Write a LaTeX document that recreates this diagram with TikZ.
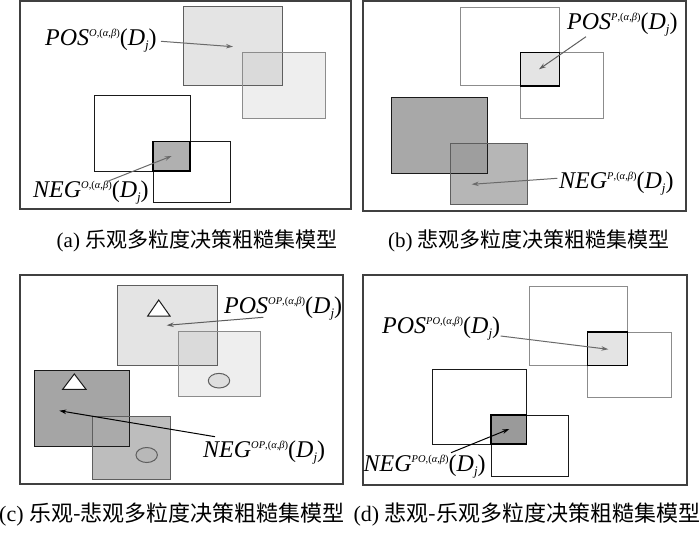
\documentclass[tikz,border=0pt]{standalone}
\usepackage{fontspec}
\setmainfont{Liberation Serif}
\newfontfamily\cjk{Noto Sans CJK SC}
\usetikzlibrary{arrows.meta}
\definecolor{frm}{HTML}{404040}
\definecolor{bdark}{HTML}{1A1A1A}
\definecolor{bmid}{HTML}{5E5E5E}
\definecolor{blight}{HTML}{8C8C8C}
\definecolor{fA}{HTML}{E4E4E4}
\definecolor{fB}{HTML}{EEEEEE}
\definecolor{fAB}{HTML}{DADADA}
\definecolor{fdark}{HTML}{A8A8A8}
\definecolor{fmed}{HTML}{B6B6B6}
\definecolor{fdm}{HTML}{9E9E9E}
\definecolor{fint}{HTML}{B0B0B0}
\definecolor{fintd}{HTML}{9A9A9A}
\definecolor{fcd}{HTML}{A5A5A5}
\definecolor{fcm}{HTML}{BDBDBD}
\definecolor{fcdm}{HTML}{AAAAAA}
\definecolor{fel1}{HTML}{DEDEDE}
\definecolor{fel2}{HTML}{B8B8B8}
\definecolor{agray}{HTML}{6A6A6A}
% label: #1 = POS/NEG, #2 = superscript letters
\newcommand{\lab}[2]{{\itshape #1}\raisebox{9pt}{\fontsize{10.5}{11}\selectfont\textit{#2},(\textit{α},\textit{β})}(\textit{D}\raisebox{-4pt}{\fontsize{13}{14}\selectfont\itshape j})}
\tikzset{
  frame/.style={draw=frm,line width=1.5pt},
  bx/.style={draw=bdark,line width=1pt},
  bxg/.style={draw=blight,line width=1pt},
  bxm/.style={draw=bmid,line width=1pt},
  inter/.style={draw=black,line width=1.5pt},
  lbl/.style={inner sep=0pt,anchor=base west,font=\fontsize{24}{28}\selectfont},
  captxt/.style={inner sep=0pt,font=\fontsize{21}{24}\selectfont},
  captxtb/.style={inner sep=0pt,font=\fontsize{22}{26}\selectfont},
  arg/.style={draw=agray,line width=1pt,-{Stealth[length=7pt,width=4.5pt]}},
  ark/.style={draw=black,line width=1pt,-{Stealth[length=7pt,width=4.5pt]}},
  tri/.style={draw=bdark,fill=white,line width=1pt},
}
\begin{document}
\begin{tikzpicture}[x=1pt,y=-1pt]
\useasboundingbox (0,0) rectangle (700,532);
% ---------- panel (a)
\draw[frame] (20,1) rectangle (351,209);
\fill[fA] (183.3,6.7) rectangle (282.7,86);
\fill[fB] (242.7,52.3) rectangle (325.7,118.3);
\fill[fAB] (242.7,52.3) rectangle (282.7,86);
\draw[bxm] (183.3,6.7) rectangle (282.7,86);
\draw[bxg] (242.7,52.3) rectangle (325.7,118.3);
\draw[bx] (94.7,95.3) rectangle (190,171);
\draw[bx] (153,141.7) rectangle (230,202.3);
\draw[inter,fill=fint] (153,141.7) rectangle (190,171);
\node[lbl] (posa) at (45,45.5) {\lab{POS}{O}};
\node[lbl] (nega) at (33,197) {\lab{NEG}{O}};
\coordinate (pa1) at (161,41.3); \coordinate (pa2) at (233,46.7);
\coordinate (na1) at (106.7,181.7); \coordinate (na2) at (171.7,156);
\draw[arg] (pa1) -- (pa2);
\draw[arg] (na1) -- (na2);
\node[captxt] (capa) at (197,241) {(a) {\cjk 乐观多粒度决策粗糙集模型}};
% ---------- panel (b)
\draw[frame] (363,1) rectangle (686,211);
\draw[bxg,fill=white] (460.7,7.3) rectangle (559.3,86);
\draw[bxg] (520.3,52.7) rectangle (603.3,118.3);
\draw[inter,fill=fA] (520.3,52.7) rectangle (559.3,86);
\fill[fdark] (391.7,97.3) rectangle (487.3,173.3);
\fill[fmed] (450.7,143.3) rectangle (527.7,204.7);
\fill[fdm] (450.7,143.3) rectangle (487.3,173.3);
\draw[bx] (391.7,97.3) rectangle (487.3,173.3);
\draw[bxm] (450.7,143.3) rectangle (527.7,204.7);
\node[lbl] (posb) at (567,30) {\lab{POS}{P}};
\node[lbl] (negb) at (559,188) {\lab{NEG}{P}};
\coordinate (pb1) at (586,36.7); \coordinate (pb2) at (539,69.3);
\coordinate (nb1) at (557.3,178.3); \coordinate (nb2) at (471.7,184.3);
\draw[ark,draw=bmid] (pb1) -- (pb2);
\draw[arg] (nb1) -- (nb2);
\node[captxt] (capb) at (529,241) {(b) {\cjk 悲观多粒度决策粗糙集模型}};
% ---------- panel (c)
\draw[frame] (20,275) rectangle (343,484);
\fill[fA] (117.7,285.7) rectangle (217.3,365);
\fill[fB] (178,331) rectangle (260.3,396.7);
\fill[fAB] (178,331) rectangle (217.3,365);
\draw[bxm] (117.7,285.7) rectangle (217.3,365);
\draw[bxg] (178,331) rectangle (260.3,396.7);
\fill[fcd] (34.3,370) rectangle (129.3,446);
\fill[fcm] (92.3,416.7) rectangle (170,479);
\fill[fcdm] (92.3,416.7) rectangle (129.3,446);
\draw[bx] (34.3,370) rectangle (129.3,446);
\draw[bxm] (92.3,416.7) rectangle (170,479);
\draw[tri] (158.7,300) -- (170,316) -- (147.7,316) -- cycle;
\draw[tri] (74.3,374) -- (86,389.3) -- (62.7,389.3) -- cycle;
\draw[bxm,fill=fel1] (219,380.7) ellipse [x radius=10.7pt, y radius=7.3pt];
\draw[bxm,fill=fel2] (146.7,455) ellipse [x radius=10.7pt, y radius=7.5pt];
\node[lbl] (posc) at (224,313.5) {\lab{POS}{OP}};
\node[lbl] (negc) at (203,457) {\lab{NEG}{OP}};
\coordinate (pc1) at (263.3,317.3); \coordinate (pc2) at (166.7,325.3);
\coordinate (nc1) at (215,436.7); \coordinate (nc2) at (59.3,410.7);
\draw[ark,draw=bmid] (pc1) -- (pc2);
\draw[ark] (nc1) -- (nc2);
\node[captxtb] (capc) at (172,515) {(c) {\cjk 乐观-悲观多粒度决策粗糙集模型}};
% ---------- panel (d)
\draw[frame] (363,275) rectangle (687,485);
\draw[bxg] (529,286.7) rectangle (627.7,365.3);
\draw[bxg] (587.7,332) rectangle (671,397.7);
\draw[inter,fill=fA] (587.7,332) rectangle (627.7,365.3);
\draw[bx] (432.3,369.3) rectangle (526.7,444);
\draw[bx] (491,415) rectangle (568.3,476.7);
\draw[inter,fill=fintd] (491,415) rectangle (526.7,444);
\node[lbl] (posd) at (382,333) {\lab{POS}{PO}};
\node[lbl] (negd) at (363.5,471.5) {\lab{NEG}{PO}};
\coordinate (pd1) at (500.7,336); \coordinate (pd2) at (608.3,349.3);
\coordinate (nd1) at (451,452.7); \coordinate (nd2) at (509.3,429);
\draw[arg] (pd1) -- (pd2);
\draw[ark] (nd1) -- (nd2);
\node[captxtb] (capd) at (527,515) {(d) {\cjk 悲观-乐观多粒度决策粗糙集模型}};
\end{tikzpicture}
\end{document}
